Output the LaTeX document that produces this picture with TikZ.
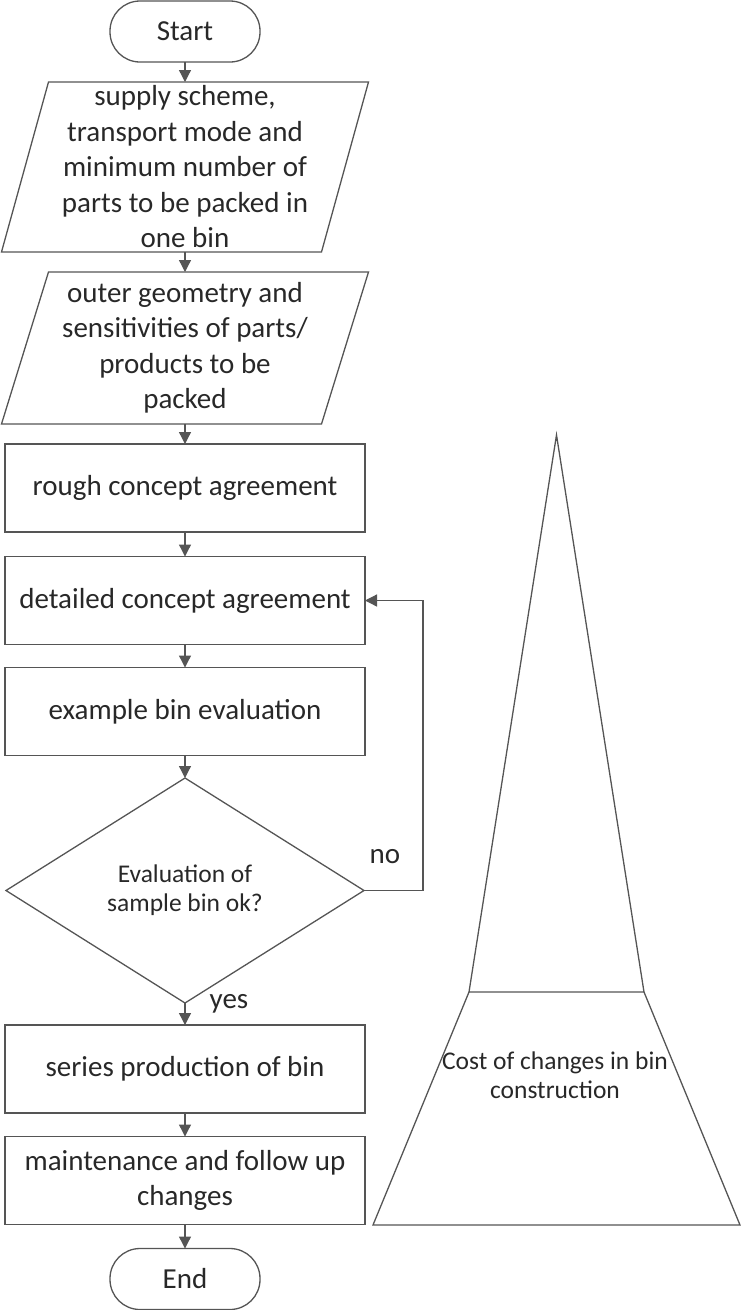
\documentclass[tikz,border=0pt]{standalone}
\usepackage{fontspec}
\setmainfont{Carlito}
\usetikzlibrary{shapes.geometric,arrows.meta,calc}
\definecolor{linecol}{RGB}{85,85,85}
\definecolor{txtcol}{RGB}{40,40,40}
\begin{document}
\begin{tikzpicture}[x=1pt,y=-1pt,
  every node/.style={text=txtcol, inner sep=0pt, outer sep=0pt},
  ln/.style={draw=linecol, line width=1.3pt},
  arr/.style={ln, -{Triangle[length=12pt,width=12pt]}},
  bigtxt/.style={font=\fontsize{29}{35.5}\selectfont, align=center},
  smalltxt/.style={font=\fontsize{25.5}{29}\selectfont, align=center},
  terminal/.style={ln, bigtxt, rectangle, rounded corners=30pt, minimum width=150pt, minimum height=61pt},
  procbox/.style={ln, bigtxt, rectangle, minimum width=360pt, minimum height=88pt},
  iobox/.style={bigtxt, rectangle, minimum width=320pt, minimum height=#1},
  decision/.style={ln, smalltxt, diamond, minimum width=358pt, minimum height=225pt}
]
\useasboundingbox (0,0) rectangle (741,1310);

% flowchart column
\node[terminal] (start) at (185,31.5) {Start};
\node[iobox=170] (in1) at (185,167) {supply scheme,\\transport mode and\\minimum number of\\parts to be packed in\\one bin};
\draw[ln] ($(in1.north west)+(23.5,0)$) -- ($(in1.north east)+(23.5,0)$)
  -- ($(in1.south east)-(23.5,0)$) -- ($(in1.south west)-(23.5,0)$) -- cycle;
\node[iobox=152] (in2) at (185,348) {outer geometry and\\sensitivities of parts/\\products to be\\packed};
\draw[ln] ($(in2.north west)+(23.5,0)$) -- ($(in2.north east)+(23.5,0)$)
  -- ($(in2.south east)-(23.5,0)$) -- ($(in2.south west)-(23.5,0)$) -- cycle;
\node[procbox] (rough) at (185,488) {rough concept agreement};
\node[procbox] (det) at (185,600.5) {detailed concept agreement};
\node[procbox] (ex) at (185,711.5) {example bin evaluation};
\node[decision] (dec) at (185,890.5) {Evaluation of\\sample bin ok?};
\node[procbox] (ser) at (185,1069) {series production of bin};
\node[procbox] (mnt) at (185,1180.5) {maintenance and follow up\\changes};
\node[terminal] (end) at (185,1279) {End};

% connectors
\draw[arr] (start) -- (in1);
\draw[arr] (in1) -- (in2);
\draw[arr] (in2) -- (rough);
\draw[arr] (rough) -- (det);
\draw[arr] (det) -- (ex);
\draw[arr] (ex) -- (dec);
\draw[arr] (dec) -- (ser);
\draw[arr] (ser) -- (mnt);
\draw[arr] (mnt) -- (end);
\coordinate (loopx) at (423,0);
\draw[arr] (dec.east) -- (dec.east -| loopx) |- (det.east);
\node[bigtxt] (no) at (385,857) {no};
\node[bigtxt] (yes) at (229,1004) {yes};

% cost pyramid
\coordinate (apex) at (556.5,435);
\coordinate (ul) at (469,992);
\coordinate (ur) at (644,992);
\coordinate (bl) at (373,1225);
\coordinate (br) at (740,1225);
\draw[ln] (apex) -- (ur) -- (ul) -- cycle;
\draw[ln] (ul) -- (bl) -- (br) -- (ur);
\node[smalltxt] (cost) at (555,1075) {Cost of changes in bin\\construction};
\end{tikzpicture}
\end{document}
